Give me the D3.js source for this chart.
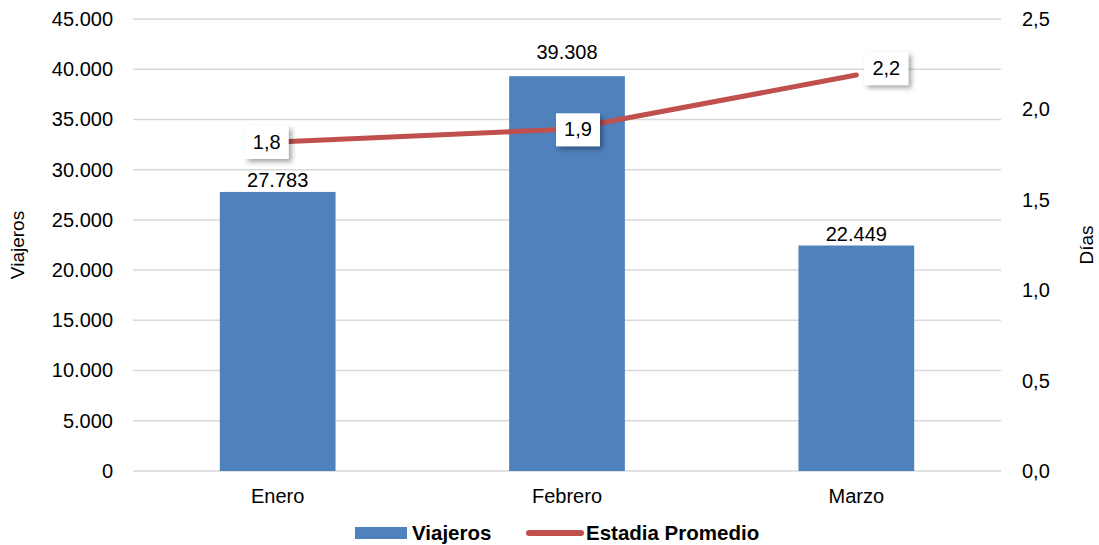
<!DOCTYPE html>
<html>
<head>
<meta charset="utf-8">
<script src="https://cdn.jsdelivr.net/npm/d3@7"></script>
<style>
  body { margin: 0; background: #fff; }
  text { font-family: "Liberation Sans", Arial, sans-serif; fill: #000; }
</style>
</head>
<body>
<div id="chart"></div>
<script>
var months = ["Enero", "Febrero", "Marzo"];
var viajeros = [27783, 39308, 22449];
var estadia = [1.82, 1.89, 2.19];
var leftTicks = [0, 5000, 10000, 15000, 20000, 25000, 30000, 35000, 40000, 45000];
var rightTicks = [0, 0.5, 1.0, 1.5, 2.0, 2.5];

// label nudges (layout only)
var barLabelLift = [0, 12, 0];
var lineLabelDx = [-11, 11, 30];
var lineLabelDy = [0, 0, -7];

var width = 1099, height = 545;
var margin = {top: 19, right: 98, bottom: 74, left: 133};
var w = width - margin.left - margin.right,
    h = height - margin.top - margin.bottom;
var fs = "20px";

var fmtThousands = d3.formatLocale({decimal: ",", thousands: ".", grouping: [3]}).format(",d");
var fmtDec = function (v) { return v.toFixed(1).replace(".", ","); };

var svg = d3.select("#chart").append("svg")
    .attr("width", width)
    .attr("height", height);

var defs = svg.append("defs");
var filt = defs.append("filter").attr("id", "shadow")
    .attr("x", "-30%").attr("y", "-30%").attr("width", "170%").attr("height", "170%");
filt.append("feDropShadow")
    .attr("dx", 3).attr("dy", 3).attr("stdDeviation", 2.5)
    .attr("flood-color", "#000").attr("flood-opacity", 0.35);

var g = svg.append("g")
    .attr("transform", "translate(" + margin.left + "," + margin.top + ")");

var x = d3.scaleBand().domain(months).range([0, w]);
var y = d3.scaleLinear().domain([0, 45000]).range([h, 0]);
var y2 = d3.scaleLinear().domain([0, 2.5]).range([h, 0]);

// grid
g.selectAll(".grid").data(leftTicks).enter().append("line")
    .attr("x1", 0).attr("x2", w)
    .attr("y1", function (d) { return y(d); })
    .attr("y2", function (d) { return y(d); })
    .attr("stroke", "#d9d9d9")
    .attr("stroke-width", 1.5);

// left axis
var yAxis = d3.axisLeft(y).tickValues(leftTicks).tickSize(0).tickPadding(20)
    .tickFormat(fmtThousands);
var ya = g.append("g").call(yAxis);
ya.select(".domain").remove();
ya.selectAll("text").style("font-size", fs);

// right axis
var y2Axis = d3.axisRight(y2).tickValues(rightTicks).tickSize(0).tickPadding(21)
    .tickFormat(fmtDec);
var y2a = g.append("g").attr("transform", "translate(" + w + ",0)").call(y2Axis);
y2a.select(".domain").remove();
y2a.selectAll("text").style("font-size", fs);

// x axis
var xAxis = d3.axisBottom(x).tickSize(0).tickPadding(18);
var xa = g.append("g").attr("transform", "translate(0," + h + ")").call(xAxis);
xa.select(".domain").remove();
xa.selectAll("text").style("font-size", fs);

// bars
var barW = x.bandwidth() * 0.4;
g.selectAll(".bar").data(viajeros).enter().append("rect")
    .attr("x", function (d, i) { return x(months[i]) + x.bandwidth() / 2 - barW / 2; })
    .attr("y", function (d) { return y(d); })
    .attr("width", barW)
    .attr("height", function (d) { return h - y(d); })
    .attr("fill", "#4f81bd");

g.selectAll(".barlabel").data(viajeros).enter().append("text")
    .attr("x", function (d, i) { return x(months[i]) + x.bandwidth() / 2; })
    .attr("y", function (d, i) { return y(d) - 5 - barLabelLift[i]; })
    .attr("text-anchor", "middle")
    .style("font-size", fs)
    .text(function (d) { return fmtThousands(d); });

// line
var line = d3.line()
    .x(function (d, i) { return x(months[i]) + x.bandwidth() / 2; })
    .y(function (d) { return y2(d); });
g.append("path").datum(estadia)
    .attr("d", line)
    .attr("fill", "none")
    .attr("stroke", "#c0504d")
    .attr("stroke-width", 5)
    .attr("stroke-linecap", "round");

// line labels
var lbl = g.selectAll(".linelabel").data(estadia).enter().append("g")
    .attr("transform", function (d, i) {
        var cx = x(months[i]) + x.bandwidth() / 2 + lineLabelDx[i];
        var cy = y2(d) + lineLabelDy[i];
        return "translate(" + cx + "," + cy + ")";
    });
lbl.append("rect")
    .attr("x", -22).attr("y", -16)
    .attr("width", 44).attr("height", 33)
    .attr("fill", "#fff")
    .attr("filter", "url(#shadow)");
lbl.append("text")
    .attr("text-anchor", "middle")
    .attr("dy", "0.36em")
    .style("font-size", fs)
    .text(function (d) { return fmtDec(d); });

// axis titles
svg.append("text")
    .attr("transform", "translate(24," + (margin.top + h / 2) + ") rotate(-90)")
    .attr("text-anchor", "middle")
    .style("font-size", "19px")
    .text("Viajeros");
svg.append("text")
    .attr("transform", "translate(1093," + (margin.top + h / 2) + ") rotate(-90)")
    .attr("text-anchor", "middle")
    .style("font-size", "19px")
    .text("Días");

// legend
var leg = svg.append("g").attr("transform", "translate(355,533)");
leg.append("rect").attr("x", 0).attr("y", -6).attr("width", 52).attr("height", 12).attr("fill", "#4f81bd");
leg.append("text").attr("x", 57).attr("y", 0).attr("dy", "0.36em")
    .style("font-size", "20.5px").style("font-weight", "bold").text("Viajeros");
leg.append("line").attr("x1", 174).attr("x2", 226).attr("y1", 0).attr("y2", 0)
    .attr("stroke", "#c0504d").attr("stroke-width", 6).attr("stroke-linecap", "round");
leg.append("text").attr("x", 231).attr("y", 0).attr("dy", "0.36em")
    .style("font-size", "20.5px").style("font-weight", "bold").text("Estadia Promedio");
</script>
</body>
</html>
